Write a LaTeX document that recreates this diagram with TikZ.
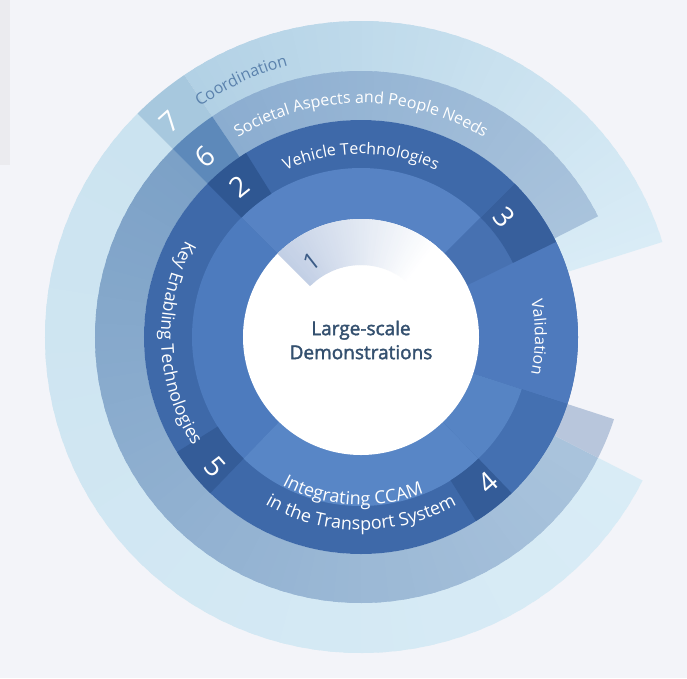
\documentclass[tikz,border=0pt]{standalone}
\usepackage{fontspec}
\setmainfont{Open Sans}
\newfontfamily\demofont{Open Sans}[FakeBold=2]
\usetikzlibrary{decorations.text}

\definecolor{pagebg}{HTML}{F3F4F9}
\definecolor{edgegrey}{HTML}{EBEBEF}
\definecolor{coordA}{HTML}{CBE3F0}
\definecolor{coordB}{HTML}{D9ECF6}
\definecolor{coordtop}{HTML}{B2D1E5}
\definecolor{coordtab}{HTML}{A7C8DE}
\definecolor{coordtext}{HTML}{5B82AD}
\definecolor{peopleA}{HTML}{7CA1C7}
\definecolor{peopleB}{HTML}{A9C3DC}
\definecolor{peopleend}{HTML}{B8C6DC}
\definecolor{peopletop}{HTML}{8BADD0}
\definecolor{peopletab}{HTML}{5D89BA}
\definecolor{bandout}{HTML}{3E69A9}
\definecolor{bandtop}{HTML}{5783C4}
\definecolor{bandleft}{HTML}{4D7BBE}
\definecolor{bandlow}{HTML}{5886C6}
\definecolor{valid}{HTML}{4E7ABD}
\definecolor{validtab}{HTML}{4771B1}
\definecolor{tabdark}{HTML}{345C98}
\definecolor{tabtwo}{HTML}{2F5792}
\definecolor{demoA}{HTML}{C2CFE5}
\definecolor{demotext}{HTML}{34506F}
\definecolor{onetext}{HTML}{3B5B86}

% ring sector: start angle, end angle, inner r, outer r, fill
\newcommand{\ringpart}[5]{%
  \fill[#5] (#1:#3) arc[start angle=#1, end angle=#2, radius=#3]
    -- (#2:#4) arc[start angle=#2, end angle=#1, radius=#4] -- cycle;}
% same, with the colour running from #5 to #6 in #7 steps
\newcommand{\gradring}[7]{%
  \foreach \k in {1,...,#7}{%
    \pgfmathsetmacro{\angA}{#1+(#2-#1)*(\k-1)/#7}%
    \pgfmathsetmacro{\angB}{#1+(#2-#1)*min(\k+0.5,#7)/#7}%
    \pgfmathtruncatemacro{\pc}{100-100*(\k-1)/(#7-1)}%
    \ringpart{\angA}{\angB}{#3}{#4}{#5!\pc!#6}%
  }}
\newcommand{\ringfont}{\fontsize{16}{19}\selectfont}
\newcommand{\lowfont}{\fontsize{18}{21}\selectfont}

\begin{document}
\begin{tikzpicture}
[
  x=1pt, y=1pt,
  numlabel/.style={text=white, font=\fontsize{28}{28}\selectfont, inner sep=0pt},
  ringtext/.style={decorate, decoration={text along path, text align=center,
    text color=white, text={#1}}}
]

\useasboundingbox (-361,-341) rectangle (326,337);
\fill[pagebg] (-361,-341) rectangle (326,337);
\fill[edgegrey] (-361,337) rectangle (-351,172);

% 7 coordination
\gradring{135}{333}{217}{316}{coordA}{coordB}{66}
\gradring{124}{17.5}{217}{316}{coordtop}{coordB}{50}
\ringpart{124}{135}{217}{316}{coordtab}

% 6 societal aspects
\gradring{135}{333}{217}{266}{peopleA}{peopleB}{66}
\ringpart{333}{342}{217}{266}{peopleend}
\gradring{124}{27}{217}{266}{peopletop}{peopleB}{50}
\ringpart{124}{135}{217}{266}{peopletab}

% 2 to 5
\fill[bandout] (0,0) circle[radius=217];
\ringpart{44}{135}{117}{169}{bandtop}
\ringpart{135}{226}{117}{169}{bandleft}
\ringpart{226}{314}{117}{169}{bandlow}
\ringpart{-18}{45}{117}{217}{valid}
\ringpart{26}{45}{117}{169}{validtab}
\ringpart{26}{45}{169}{217}{tabdark!90!valid}
\ringpart{-46}{-18}{169}{217}{bandout!60!valid}
\ringpart{-46}{-18}{117}{169}{bandlow!80!valid}
\ringpart{-58}{-46}{169}{217}{tabdark}
\ringpart{212}{226}{169}{217}{tabdark}
\ringpart{122}{135}{169}{217}{tabtwo}

% 1 and centre
\fill[white] (0,0) circle[radius=118];
\gradring{135}{50}{72}{118}{demoA}{white}{60}

\node[font=\demofont\fontsize{19}{24}\selectfont, text=demotext, align=center]
  (demo) at (0,-3) {Large-scale\\Demonstrations};

\node[text=onetext, font=\fontsize{24}{24}\selectfont, rotate=38] (n1) at (123:90) {1};
\node[numlabel, rotate=39] (n2) at (128.9:193) {2};
\node[numlabel, rotate=-50] (n3) at (39.8:187) {3};
\node[numlabel, rotate=41] (n4) at (-48.8:193) {4};
\node[numlabel, rotate=-48] (n5) at (221.7:195) {5};
\node[numlabel, rotate=41] (n6) at (130.9:238) {6};
\node[numlabel, rotate=42] (n7) at (131.6:288) {7};

\path[ringtext={|\ringfont|Vehicle Technologies}]
  (135:183) arc[start angle=135, end angle=45, radius=183];
\path[ringtext={|\ringfont|Societal Aspects and People Needs}]
  (140:234) arc[start angle=140, end angle=40, radius=234];
\path[decorate, decoration={text along path, text align=center,
    text color=coordtext, text={|\ringfont|Coordination}}]
  (140:281) arc[start angle=140, end angle=90, radius=281];
\path[ringtext={|\fontsize{17.5}{20}\selectfont|Key Enabling Technologies}]
  (138:200) arc[start angle=138, end angle=226, radius=200];
\path[ringtext={|\ringfont|Validation}]
  (30:174) arc[start angle=30, end angle=-30, radius=174];
\path[ringtext={|\lowfont|Integrating CCAM}]
  (227:168) arc[start angle=227, end angle=307, radius=168];
\path[ringtext={|\lowfont|in the Transport System}]
  (230:193) arc[start angle=230, end angle=310, radius=193];
\end{tikzpicture}
\end{document}
